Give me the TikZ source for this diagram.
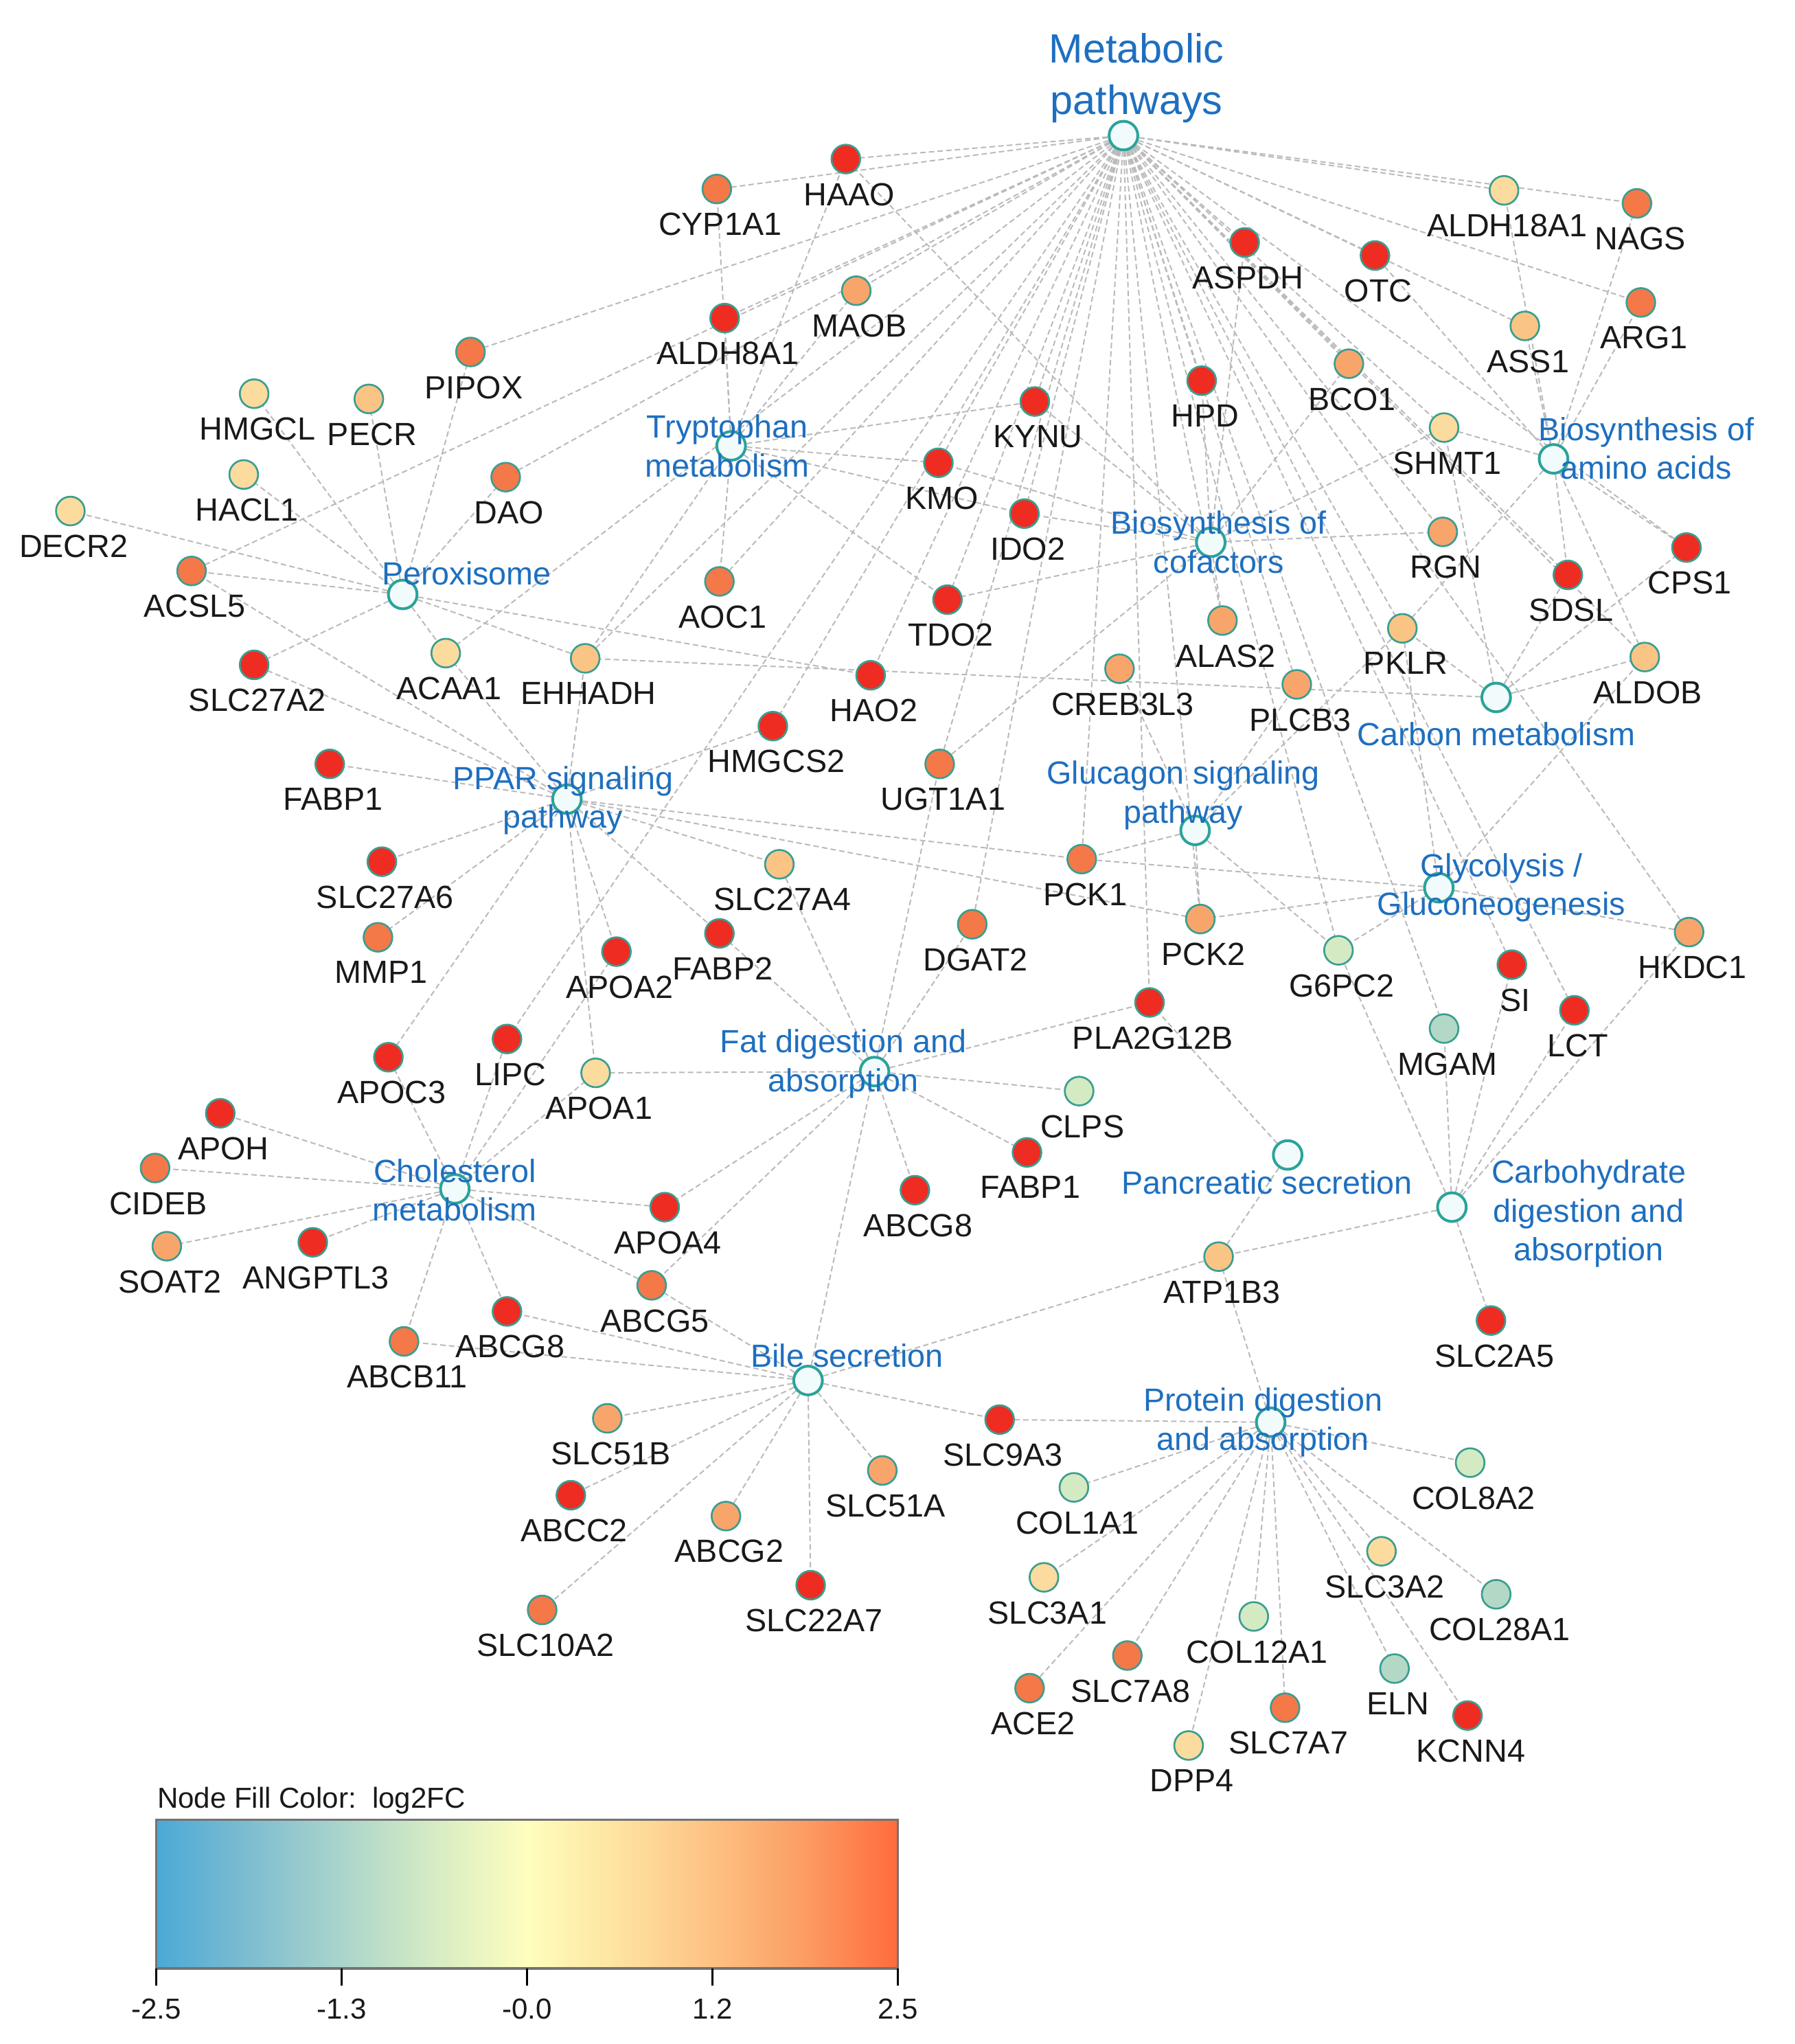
\documentclass[tikz,border=0pt]{standalone}
\usepackage{fontspec}
\setmainfont{Liberation Sans}
\usetikzlibrary{backgrounds}

\definecolor{upFive}{HTML}{EE2C22}
\definecolor{upFour}{HTML}{F47848}
\definecolor{upThree}{HTML}{F8A56B}
\definecolor{upTwo}{HTML}{FAC485}
\definecolor{upOne}{HTML}{FCDB9E}
\definecolor{dnOne}{HTML}{D4EAC3}
\definecolor{dnTwo}{HTML}{B3D9C6}
\definecolor{nodeRim}{HTML}{3A9E91}
\definecolor{pwRim}{HTML}{2BA39A}
\definecolor{pwFill}{HTML}{F2FBFB}
\definecolor{pwBlue}{HTML}{1E6FBF}
\definecolor{linkGray}{HTML}{BABABA}
\definecolor{legA}{HTML}{4BA9D6}
\definecolor{legB}{HTML}{7EBDD0}
\definecolor{legC}{HTML}{ABD4CB}
\definecolor{legD}{HTML}{D6ECC4}
\definecolor{legE}{HTML}{FEFEBE}
\definecolor{legF}{HTML}{FEE29F}
\definecolor{legG}{HTML}{FDC182}
\definecolor{legH}{HTML}{FC9C63}
\definecolor{legI}{HTML}{FF6B3B}
\pgfdeclarehorizontalshading{lfcbar}{100bp}{color(0bp)=(legA); color(25bp)=(legA); color(31.25bp)=(legB); color(37.5bp)=(legC); color(43.75bp)=(legD); color(50bp)=(legE); color(56.25bp)=(legF); color(62.5bp)=(legG); color(68.75bp)=(legH); color(75bp)=(legI); color(100bp)=(legI)}

\newcommand{\genefont}{\fontsize{7}{8.5}\selectfont}
\newcommand{\legfont}{\fontsize{6.3}{7.5}\selectfont}
\newcommand{\gene}[4]{\node[gene, fill=#4, label={[genelab]below:#3}] (#1) at (#2) {};}
\newcommand{\pway}[4]{\node[pwnode] (#1) at (#2) {}; \node[pwlab] (#1L) at (#3) {#4};}

\begin{document}
\begin{tikzpicture}[x=0.01cm, y=-0.01cm]
  \tikzset{
    gene/.style={circle, draw=nodeRim, line width=0.4pt, minimum size=0.22cm, inner sep=0pt, label distance=0pt},
    genelab/.style={font=\genefont, text=black!90, inner sep=0pt, xshift=0.025cm, yshift=-0.06cm},
    pwnode/.style={circle, draw=pwRim, fill=pwFill, line width=0.6pt, minimum size=0.22cm, inner sep=0pt},
    pwlab/.style={font=\genefont, text=pwBlue, align=center, inner sep=0pt},
    link/.style={draw=linkGray, line width=0.3pt, dash pattern=on 1.2pt off 0.7pt},
    legtxt/.style={font=\legfont, text=black!90, inner sep=0pt}
  }
  \useasboundingbox (0,0) rectangle (1377,1568);

  \node[pwnode] (mp) at (862,104) {};
  \pway{trp}{561,342}{558,342}{Tryptophan\\metabolism}
  \pway{per}{309,456}{358,440}{Peroxisome}
  \pway{bioaa}{1192,352}{1263,344}{Biosynthesis of\\amino acids}
  \pway{biocof}{929,416}{935,416}{Biosynthesis of\\cofactors}
  \pway{carb}{1148,535}{1148,563}{Carbon metabolism}
  \pway{ppar}{435,613}{432,614}{PPAR signaling\\pathway}
  \pway{gluc}{917,637}{908,610}{Glucagon signaling\\pathway}
  \pway{gly}{1104,681}{1152,681}{Glycolysis /\\Gluconeogenesis}
  \pway{fat}{671,822}{647,816}{Fat digestion and\\absorption}
  \pway{chol}{349,912}{349,913}{Cholesterol\\metabolism}
  \pway{panc}{988,886}{972,907}{Pancreatic secretion}
  \pway{carbd}{1114,926}{1219,931}{Carbohydrate\\digestion and\\absorption}
  \pway{bile}{620,1059}{650,1040}{Bile secretion}
  \pway{prot}{975,1091}{969,1091}{Protein digestion\\and absorption}

  \gene{cyp1a1}{550,145}{CYP1A1}{upFour}
  \gene{haao}{649,122}{HAAO}{upFive}
  \gene{aldh18a1}{1154,146}{ALDH18A1}{upOne}
  \gene{nags}{1256,156}{NAGS}{upFour}
  \gene{aspdh}{955,186}{ASPDH}{upFive}
  \gene{otc}{1055,196}{OTC}{upFive}
  \gene{aldh8a1}{556,244}{ALDH8A1}{upFive}
  \gene{maob}{657,223}{MAOB}{upThree}
  \gene{ass1}{1170,250}{ASS1}{upTwo}
  \gene{arg1}{1259,232}{ARG1}{upFour}
  \gene{pipox}{361,270}{PIPOX}{upFour}
  \gene{hmgcl}{195,302}{HMGCL}{upOne}
  \gene{pecr}{283,306}{PECR}{upTwo}
  \gene{kynu}{794,308}{KYNU}{upFive}
  \gene{hpd}{922,292}{HPD}{upFive}
  \gene{bco1}{1035,279}{BCO1}{upThree}
  \gene{shmt1}{1108,328}{SHMT1}{upOne}
  \gene{hacl1}{187,364}{HACL1}{upOne}
  \gene{dao}{388,366}{DAO}{upFour}
  \gene{kmo}{720,355}{KMO}{upFive}
  \gene{ido2}{786,394}{IDO2}{upFive}
  \gene{decr2}{54,392}{DECR2}{upOne}
  \gene{acsl5}{147,438}{ACSL5}{upFour}
  \gene{aoc1}{552,446}{AOC1}{upFour}
  \gene{rgn}{1107,408}{RGN}{upThree}
  \gene{sdsl}{1203,441}{SDSL}{upFive}
  \gene{cps1}{1294,420}{CPS1}{upFive}
  \gene{tdo2}{727,460}{TDO2}{upFive}
  \gene{alas2}{938,476}{ALAS2}{upThree}
  \gene{pklr}{1076,482}{PKLR}{upTwo}
  \gene{aldob}{1262,504}{ALDOB}{upTwo}
  \gene{slc27a2}{195,510}{SLC27A2}{upFive}
  \gene{acaa1}{342,501}{ACAA1}{upOne}
  \gene{ehhadh}{449,505}{EHHADH}{upTwo}
  \gene{hao2}{668,518}{HAO2}{upFive}
  \gene{creb3l3}{859,513}{CREB3L3}{upThree}
  \gene{plcb3}{995,525}{PLCB3}{upThree}
  \gene{hmgcs2}{593,557}{HMGCS2}{upFive}
  \gene{fabp1a}{253,586}{FABP1}{upFive}
  \gene{ugt1a1}{721,586}{UGT1A1}{upFour}
  \gene{slc27a6}{293,661}{SLC27A6}{upFive}
  \gene{slc27a4}{598,663}{SLC27A4}{upTwo}
  \gene{pck1}{830,659}{PCK1}{upFour}
  \gene{mmp1}{290,719}{MMP1}{upFour}
  \gene{apoa2}{473,730}{APOA2}{upFive}
  \gene{fabp2}{552,716}{FABP2}{upFive}
  \gene{dgat2}{746,709}{DGAT2}{upFour}
  \gene{pck2}{921,705}{PCK2}{upThree}
  \gene{g6pc2}{1027,729}{G6PC2}{dnOne}
  \gene{si}{1160,740}{SI}{upFive}
  \gene{lct}{1208,775}{LCT}{upFive}
  \gene{hkdc1}{1296,715}{HKDC1}{upThree}
  \gene{pla2g12b}{882,769}{PLA2G12B}{upFive}
  \gene{mgam}{1108,789}{MGAM}{dnTwo}
  \gene{apoc3}{298,811}{APOC3}{upFive}
  \gene{lipc}{389,797}{LIPC}{upFive}
  \gene{apoa1}{457,823}{APOA1}{upOne}
  \gene{clps}{828,837}{CLPS}{dnOne}
  \gene{apoh}{169,854}{APOH}{upFive}
  \gene{cideb}{119,896}{CIDEB}{upFour}
  \gene{fabp1b}{788,884}{FABP1}{upFive}
  \gene{abcg8a}{702,913}{ABCG8}{upFive}
  \gene{apoa4}{510,926}{APOA4}{upFive}
  \gene{soat2}{128,956}{SOAT2}{upThree}
  \gene{angptl3}{240,953}{ANGPTL3}{upFive}
  \gene{atp1b3}{935,964}{ATP1B3}{upTwo}
  \gene{slc2a5}{1144,1013}{SLC2A5}{upFive}
  \gene{abcg5}{500,986}{ABCG5}{upFour}
  \gene{abcg8b}{389,1006}{ABCG8}{upFive}
  \gene{abcb11}{310,1029}{ABCB11}{upFour}
  \gene{slc51b}{466,1088}{SLC51B}{upThree}
  \gene{slc9a3}{767,1089}{SLC9A3}{upFive}
  \gene{abcc2}{438,1147}{ABCC2}{upFive}
  \gene{slc51a}{677,1128}{SLC51A}{upThree}
  \gene{col1a1}{824,1141}{COL1A1}{dnOne}
  \gene{col8a2}{1128,1122}{COL8A2}{dnOne}
  \gene{abcg2}{557,1163}{ABCG2}{upThree}
  \gene{slc3a2}{1060,1190}{SLC3A2}{upOne}
  \gene{col28a1}{1148,1223}{COL28A1}{dnTwo}
  \gene{slc22a7}{622,1216}{SLC22A7}{upFive}
  \gene{slc3a1}{801,1210}{SLC3A1}{upOne}
  \gene{col12a1}{962,1240}{COL12A1}{dnOne}
  \gene{slc10a2}{416,1235}{SLC10A2}{upFour}
  \gene{slc7a8}{865,1270}{SLC7A8}{upFour}
  \gene{eln}{1070,1280}{ELN}{dnTwo}
  \gene{ace2}{790,1295}{ACE2}{upFour}
  \gene{slc7a7}{986,1310}{SLC7A7}{upFour}
  \gene{kcnn4}{1126,1316}{KCNN4}{upFive}
  \gene{dpp4}{912,1339}{DPP4}{upOne}

  \node[pwlab, font=\fontsize{8.9}{11.3}\selectfont] (mpL) at (872,60) {Metabolic\\pathways};

  \begin{pgfonlayer}{background}
    \foreach \g in {cyp1a1,haao,aldh18a1,nags,aspdh,otc,aldh8a1,maob,ass1,arg1,pipox,kynu,hpd,bco1,shmt1,dao,kmo,ido2,acsl5,aoc1,rgn,sdsl,cps1,tdo2,alas2,pklr,aldob,acaa1,ehhadh,hao2,hmgcs2,ugt1a1,pck1,pck2,dgat2,g6pc2,si,lct,hkdc1,pla2g12b,mgam,lipc,plcb3}
      \draw[link] (mp) -- (\g);
    \foreach \g in {cyp1a1,aldh8a1,aoc1,haao,maob,kynu,kmo,ido2,tdo2,ehhadh}
      \draw[link] (trp) -- (\g);
    \foreach \g in {hmgcl,pecr,pipox,hacl1,dao,decr2,acsl5,slc27a2,acaa1,ehhadh,hao2}
      \draw[link] (per) -- (\g);
    \foreach \g in {aldh18a1,nags,ass1,arg1,otc,shmt1,cps1,sdsl,aldob,pklr}
      \draw[link] (bioaa) -- (\g);
    \foreach \g in {haao,kynu,kmo,ido2,tdo2,aspdh,hpd,bco1,shmt1,rgn,alas2,ugt1a1}
      \draw[link] (biocof) -- (\g);
    \foreach \g in {shmt1,pklr,aldob,sdsl,cps1,ehhadh}
      \draw[link] (carb) -- (\g);
    \foreach \g in {acsl5,slc27a2,acaa1,ehhadh,fabp1a,slc27a6,mmp1,hmgcs2,slc27a4,pck1,pck2,fabp2,apoa2,apoc3,apoa1}
      \draw[link] (ppar) -- (\g);
    \foreach \g in {creb3l3,plcb3,pck1,pck2,g6pc2,pklr}
      \draw[link] (gluc) -- (\g);
    \foreach \g in {pklr,aldob,pck1,pck2,g6pc2,hkdc1}
      \draw[link] (gly) -- (\g);
    \foreach \g in {slc27a4,fabp2,dgat2,pla2g12b,clps,fabp1b,abcg8a,apoa4,apoa1,abcg5}
      \draw[link] (fat) -- (\g);
    \foreach \g in {apoc3,lipc,apoa1,apoa2,apoh,cideb,soat2,angptl3,abcb11,abcg8b,apoa4,abcg5}
      \draw[link] (chol) -- (\g);
    \foreach \g in {pla2g12b,atp1b3}
      \draw[link] (panc) -- (\g);
    \foreach \g in {si,lct,mgam,hkdc1,g6pc2,slc2a5,atp1b3}
      \draw[link] (carbd) -- (\g);
    \foreach \g in {abcg5,abcg8b,abcb11,slc51b,abcc2,slc10a2,abcg2,slc22a7,slc51a,slc9a3,atp1b3,ugt1a1}
      \draw[link] (bile) -- (\g);
    \foreach \g in {slc9a3,col1a1,slc3a1,ace2,slc7a8,dpp4,col12a1,slc7a7,eln,kcnn4,col28a1,slc3a2,col8a2,atp1b3}
      \draw[link] (prot) -- (\g);
  \end{pgfonlayer}

  \node[legtxt, anchor=base west] (legTitle) at (120,1387) {Node Fill Color:\ \ log2FC};
  \shade[shading=lfcbar] (120,1396) rectangle (689,1510);
  \draw[black!55, line width=0.5pt] (120,1396) rectangle (689,1510);
  \foreach \x/\t [count=\i] in {120/-2.5,262.25/-1.3,404.5/-0.0,546.75/1.2,689/2.5} {
    \draw[line width=0.5pt] (\x,1510) -- (\x,1523);
    \node[legtxt, anchor=base] (tick\i) at (\x,1549) {\t};
  }
\end{tikzpicture}
\end{document}
